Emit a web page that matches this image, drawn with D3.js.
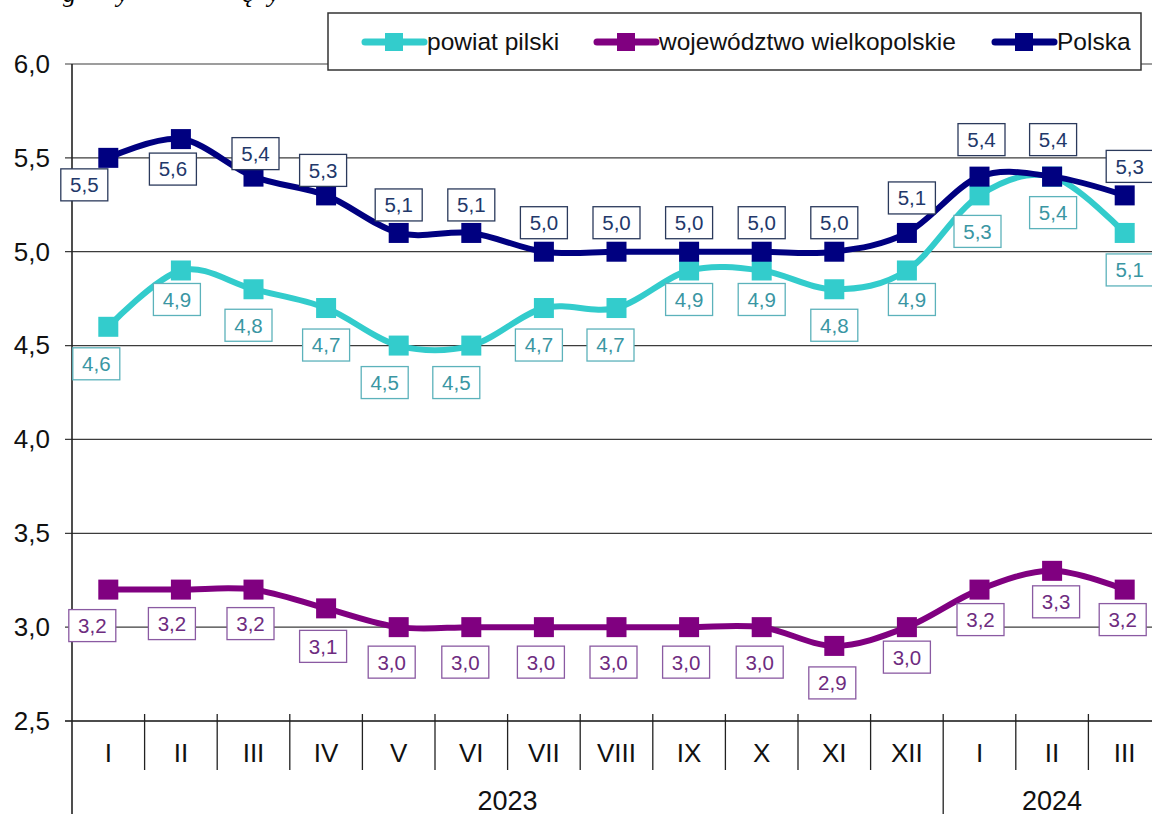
<!DOCTYPE html>
<html>
<head>
<meta charset="utf-8">
<script src="https://cdn.jsdelivr.net/npm/d3@7"></script>
<style>
  body { margin: 0; background: #fff; }
  svg { display: block; font-family: "Liberation Sans", Arial, sans-serif; }
</style>
</head>
<body>
<div id="graph"></div>
<script>
// data
let months = ["I", "II", "III", "IV", "V", "VI", "VII", "VIII", "IX", "X", "XI", "XII", "I", "II", "III"];
let years = [{ label: "2023", count: 12 }, { label: "2024", count: 3 }];
let yTicks = [2.5, 3.0, 3.5, 4.0, 4.5, 5.0, 5.5, 6.0];

let powiat = [4.6, 4.9, 4.8, 4.7, 4.5, 4.5, 4.7, 4.7, 4.9, 4.9, 4.8, 4.9, 5.3, 5.4, 5.1];
let wojewodztwo = [3.2, 3.2, 3.2, 3.1, 3.0, 3.0, 3.0, 3.0, 3.0, 3.0, 2.9, 3.0, 3.2, 3.3, 3.2];
let polska = [5.5, 5.6, 5.4, 5.3, 5.1, 5.1, 5.0, 5.0, 5.0, 5.0, 5.0, 5.1, 5.4, 5.4, 5.3];

// where each data label sits relative to its point (px)
let powiatLabelPos = [[-12, 37], [-4, 29], [-5, 36], [0, 37], [-14, 37], [-15, 37], [-5, 37], [-6, 37],
                      [0, 29], [0, 29], [0, 36], [5, 29], [-2, 36], [1, 36], [5, 37]];
let wojLabelPos = [[-16, 36], [-9, 34], [-3, 34], [-3, 38], [-7, 35], [-6, 35], [-3, 35], [-3, 35],
                   [-3, 35], [-2, 35], [-2, 37], [0, 30], [1, 30], [4, 31], [-2, 30]];
let polskaLabelPos = [[-24, 27], [-8, 30], [2, -23], [-3, -25], [0, -28], [0, -28], [0, -29], [0, -29],
                      [0, -29], [0, -29], [0, -29], [5, -35], [2, -37], [1, -37], [5, -29]];

let series = [
  { name: "powiat pilski", values: powiat, color: "#33CCCC", text: "#3a96a3", border: "#5cb2bb", pos: powiatLabelPos },
  { name: "województwo wielkopolskie", values: wojewodztwo, color: "#800080", text: "#6e2c80", border: "#8a5aa2", pos: wojLabelPos },
  { name: "Polska", values: polska, color: "#000080", text: "#22386a", border: "#2b3a5c", pos: polskaLabelPos }
];

let width = 1152, height = 814;
let plotLeft = 72, plotTop = 64, plotBottom = 721;
let band = 72.6;

let fmt = v => d3.format(".1f")(v).replace(".", ",");

let x = d3.scaleBand()
  .domain(d3.range(months.length))
  .range([plotLeft, plotLeft + band * months.length])
  .padding(0);
let y = d3.scaleLinear().domain([2.5, 6.0]).range([plotBottom, plotTop]);
let cx = i => x(i) + x.bandwidth() / 2;

let svg = d3.select("#graph").append("svg")
  .attr("width", width)
  .attr("height", height);

// fragment of the caption cut off at the top
let cap = svg.append("text")
  .attr("y", 2)
  .style("font-family", "'Liberation Serif', 'DejaVu Serif', serif")
  .style("font-style", "italic")
  .style("font-size", "26px")
  .attr("fill", "#000");
[["g", 63], ["y", 117], ["ę", 242], ["y", 268]].forEach(d => {
  cap.append("tspan").attr("x", d[1]).text(d[0]);
});

// gridlines
svg.append("g")
  .selectAll("line")
  .data(yTicks)
  .join("line")
  .attr("x1", plotLeft - 7)
  .attr("x2", width)
  .attr("y1", d => y(d))
  .attr("y2", d => y(d))
  .attr("stroke", d => d === 2.5 ? "#111" : "#3c3c3c")
  .attr("stroke-width", d => d === 2.5 ? 1.6 : 1.2);

// y axis
let yAxis = d3.axisLeft(y)
  .tickValues(yTicks)
  .tickFormat(fmt)
  .tickSize(0)
  .tickPadding(22);
let yg = svg.append("g").attr("transform", "translate(" + plotLeft + ",0)").call(yAxis);
yg.select(".domain").remove();
yg.selectAll("text")
  .style("font-size", "26px")
  .attr("fill", "#111")
  .attr("font-family", "'Liberation Sans', Arial, sans-serif");

svg.append("line")
  .attr("x1", plotLeft).attr("x2", plotLeft)
  .attr("y1", plotTop).attr("y2", height)
  .attr("stroke", "#222").attr("stroke-width", 1.6);

// category separators
let seps = d3.range(1, months.length);
let yearBreaks = [];
let acc = 0;
years.forEach(d => { acc += d.count; yearBreaks.push(acc); });

svg.append("g")
  .selectAll("line")
  .data(seps)
  .join("line")
  .attr("x1", d => x(d)).attr("x2", d => x(d))
  .attr("y1", plotBottom - 7)
  .attr("y2", d => yearBreaks.includes(d) ? height : 770)
  .attr("stroke", "#222").attr("stroke-width", 1.3);

// month labels
svg.append("g")
  .selectAll("text")
  .data(months)
  .join("text")
  .attr("x", (d, i) => cx(i))
  .attr("y", 762)
  .attr("text-anchor", "middle")
  .style("font-size", "26px")
  .attr("fill", "#111")
  .text(d => d);

// year labels
let start = 0;
years.forEach(d => {
  let x0 = x(start), x1 = x(start + d.count - 1) + x.bandwidth();
  svg.append("text")
    .attr("x", (x0 + x1) / 2)
    .attr("y", 810)
    .attr("text-anchor", "middle")
    .style("font-size", "27px")
    .attr("fill", "#111")
    .text(d.label);
  start += d.count;
});

// lines
let line = d3.line()
  .x((d, i) => cx(i))
  .y(d => y(d))
  .curve(d3.curveCardinal.tension(0));

series.forEach(s => {
  let g = svg.append("g");
  g.append("path")
    .datum(s.values)
    .attr("d", line)
    .attr("fill", "none")
    .attr("stroke", s.color)
    .attr("stroke-width", 6)
    .attr("stroke-linejoin", "round");
  g.selectAll("rect")
    .data(s.values)
    .join("rect")
    .attr("x", (d, i) => cx(i) - 10)
    .attr("y", d => y(d) - 10)
    .attr("width", 20)
    .attr("height", 20)
    .attr("fill", s.color);
});

// data labels
series.forEach(s => {
  let lg = svg.append("g")
    .selectAll("g")
    .data(s.values)
    .join("g")
    .attr("transform", (d, i) => "translate(" + (cx(i) + s.pos[i][0]) + "," + (y(d) + s.pos[i][1]) + ")");
  lg.append("rect")
    .attr("x", -23.5).attr("y", -16)
    .attr("width", 47).attr("height", 32)
    .attr("fill", "#fff")
    .attr("stroke", s.border)
    .attr("stroke-width", 1.3);
  lg.append("text")
    .attr("text-anchor", "middle")
    .attr("dy", "0.36em")
    .style("font-size", "20.5px")
    .attr("fill", s.text)
    .text(d => fmt(d));
});

// legend
let legend = svg.append("g");
legend.append("rect")
  .attr("x", 328).attr("y", 13)
  .attr("width", 813).attr("height", 57)
  .attr("fill", "#fff")
  .attr("stroke", "#333")
  .attr("stroke-width", 1.5);
let legendX = [365, 597, 995];
series.forEach((s, i) => {
  let lx = legendX[i];
  legend.append("line")
    .attr("x1", lx).attr("x2", lx + 59)
    .attr("y1", 42).attr("y2", 42)
    .attr("stroke", s.color)
    .attr("stroke-width", 7)
    .attr("stroke-linecap", "round");
  legend.append("rect")
    .attr("x", lx + 20).attr("y", 33)
    .attr("width", 18).attr("height", 18)
    .attr("fill", s.color);
  legend.append("text")
    .attr("x", lx + 62)
    .attr("y", 50)
    .style("font-size", "24.5px")
    .attr("fill", "#111")
    .text(s.name);
});
</script>
</body>
</html>
